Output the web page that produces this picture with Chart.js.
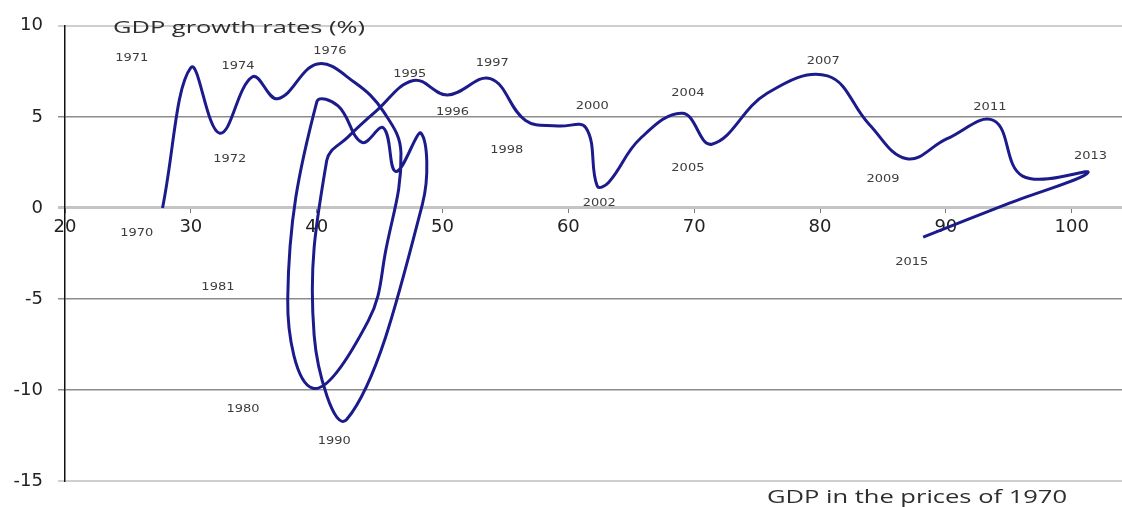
<!DOCTYPE html>
<html>
<head>
<meta charset="utf-8">
<title>GDP growth rates</title>
<script src="https://cdn.jsdelivr.net/npm/chart.js@4.4.1/dist/chart.umd.min.js"></script>
<style>
  html, body { margin: 0; padding: 0; background: #fff; }
  #wrap { width: 1122px; height: 507px; position: relative; }
</style>
</head>
<body>
<div id="wrap"><canvas id="gdpChart"></canvas></div>
<script>
// one point per year: GDP (1970 prices) against growth rate (%)
const years = [1970, 1971, 1972, 1973, 1974, 1975, 1976, 1977, 1978, 1979,
  1980, 1981, 1982, 1983, 1984, 1985, 1986, 1987, 1988, 1989,
  1990, 1991, 1992, 1993, 1994, 1995, 1996, 1997, 1998, 1999,
  2000, 2001, 2002, 2003, 2004, 2005, 2006, 2007, 2008, 2009,
  2010, 2011, 2012, 2013, 2014, 2015];
const gdp = [27.75, 30.0, 32.3, 34.9, 36.9, 40.05, 43.0, 45.3, 46.7, 45.5,
  44.1, 39.7, 37.7, 40.0, 41.7, 43.6, 45.3, 46.3, 48.3, 48.4,
  42.4, 39.8, 40.8, 42.5, 44.7, 47.7, 50.4, 53.8, 56.6, 59.2,
  61.4, 62.3, 63.2, 65.7, 69.1, 71.4, 75.8, 80.6, 83.9, 86.9,
  90.1, 93.8, 96.1, 101.3, 94.8, 88.2];
const growth = [0.0, 7.7, 4.1, 7.2, 6.0, 7.9, 6.9, 5.3, 3.0, -2.3,
  -6.2, -9.9, -5.0, 5.8, 5.6, 3.6, 4.4, 2.0, 4.1, 0.2,
  -11.6, -7.0, 2.6, 3.9, 5.3, 7.0, 6.2, 7.1, 4.8, 4.5,
  4.4, 1.2, 1.4, 3.8, 5.2, 3.5, 6.3, 7.25, 4.6, 2.7,
  3.8, 4.8, 1.75, 1.95, 0.2, -1.6];

const xTicks = [20, 30, 40, 50, 60, 70, 80, 90, 100];
const yTicks = [-15, -10, -5, 0, 5, 10];

// year captions and where they sit (in axis units)
const labelYears = ['1970', '1971', '1972', '1974', '1976', '1980', '1981', '1990',
  '1995', '1996', '1997', '1998', '2000', '2002', '2004', '2005',
  '2007', '2009', '2011', '2013', '2015'];
const labelGdp = [25.7, 25.3, 33.1, 33.75, 41.05, 34.15, 32.15, 41.4,
  47.4, 50.8, 53.95, 55.1, 61.9, 62.45, 69.5, 69.5,
  80.25, 85.0, 93.5, 101.5, 87.3];
const labelRate = [-1.4, 8.25, 2.7, 7.78, 8.62, -11.05, -4.35, -12.8,
  7.35, 5.26, 7.94, 3.2, 5.58, 0.24, 6.33, 2.2,
  8.05, 1.56, 5.53, 2.84, -2.95];

const points = years.map((yr, i) => ({ x: gdp[i], y: growth[i] }));

function stretchedText(ctx, text, x, y, size, width, align) {
  ctx.save();
  ctx.font = size + 'px "Open Sans"';
  const w = ctx.measureText(text).width;
  const sx = width / w;
  ctx.translate(x, y);
  ctx.scale(sx, 1);
  ctx.textAlign = align;
  ctx.textBaseline = 'middle';
  ctx.fillText(text, 0, 0);
  ctx.restore();
}

const textPlugin = {
  id: 'texts',
  afterDatasetsDraw(chart) {
    const ctx = chart.ctx;
    const xs = chart.scales.x;
    const ys = chart.scales.y;
    ctx.save();
    ctx.fillStyle = '#2e2e2e';
    stretchedText(ctx, 'GDP growth rates (%)', 113, 28, 17, 252, 'left');
    stretchedText(ctx, 'GDP in the prices of 1970', 767, 498, 18, 300, 'left');

    ctx.fillStyle = '#3c3c3c';
    ctx.font = '11px "DejaVu Sans"';
    ctx.textAlign = 'center';
    ctx.textBaseline = 'middle';
    labelYears.forEach((t, i) => {
      const px = xs.getPixelForValue(labelGdp[i]);
      const py = ys.getPixelForValue(labelRate[i]);
      ctx.save();
      ctx.translate(px, py);
      ctx.scale(1.18, 1);
      ctx.fillText(t, 0, 0);
      ctx.restore();
    });
    ctx.restore();
  }
};

new Chart(document.getElementById('gdpChart'), {
  type: 'scatter',
  data: {
    datasets: [{
      label: 'GDP growth',
      data: points,
      showLine: true,
      tension: 0.4,
      borderColor: '#1b1b8c',
      borderWidth: 3,
      pointRadius: 0,
      pointHoverRadius: 0
    }]
  },
  options: {
    responsive: true,
    maintainAspectRatio: false,
    animation: false,
    layout: { padding: { top: 21, bottom: 20, left: 0, right: 0 } },
    plugins: {
      legend: { display: false },
      tooltip: { enabled: false }
    },
    scales: {
      x: {
        type: 'linear',
        position: { y: 0 },
        min: 20,
        max: 104,
        afterBuildTicks: (s) => { s.ticks = xTicks.map(v => ({ value: v })); },
        grid: { drawOnChartArea: false, drawTicks: true, tickLength: 5, color: '#7a7a7a', lineWidth: 1 },
        border: { display: false },
        ticks: {
          padding: 4,
          color: '#222',
          maxRotation: 0,
          font: { family: 'DejaVu Sans', size: 18 }
        }
      },
      y: {
        type: 'linear',
        min: -15,
        max: 10,
        afterBuildTicks: (s) => { s.ticks = yTicks.map(v => ({ value: v })); },
        afterFit: (s) => { s.width = 65; },
        grid: {
          drawTicks: true,
          tickLength: 7,
          color: (c) => {
            const v = c.tick ? c.tick.value : null;
            if (v === 0) return '#c4c4c4';
            if (v === 10 || v === -15) return '#cfcfcf';
            return '#8c8c8c';
          },
          lineWidth: (c) => {
            const v = c.tick ? c.tick.value : null;
            if (v === 0) return 3;
            if (v === 10 || v === -15) return 2;
            return 1.5;
          }
        },
        border: { display: true, color: '#111', width: 1.5 },
        ticks: {
          padding: 15,
          color: '#222',
          font: { family: 'DejaVu Sans', size: 18 }
        }
      }
    }
  },
  plugins: [textPlugin]
});
</script>
</body>
</html>
